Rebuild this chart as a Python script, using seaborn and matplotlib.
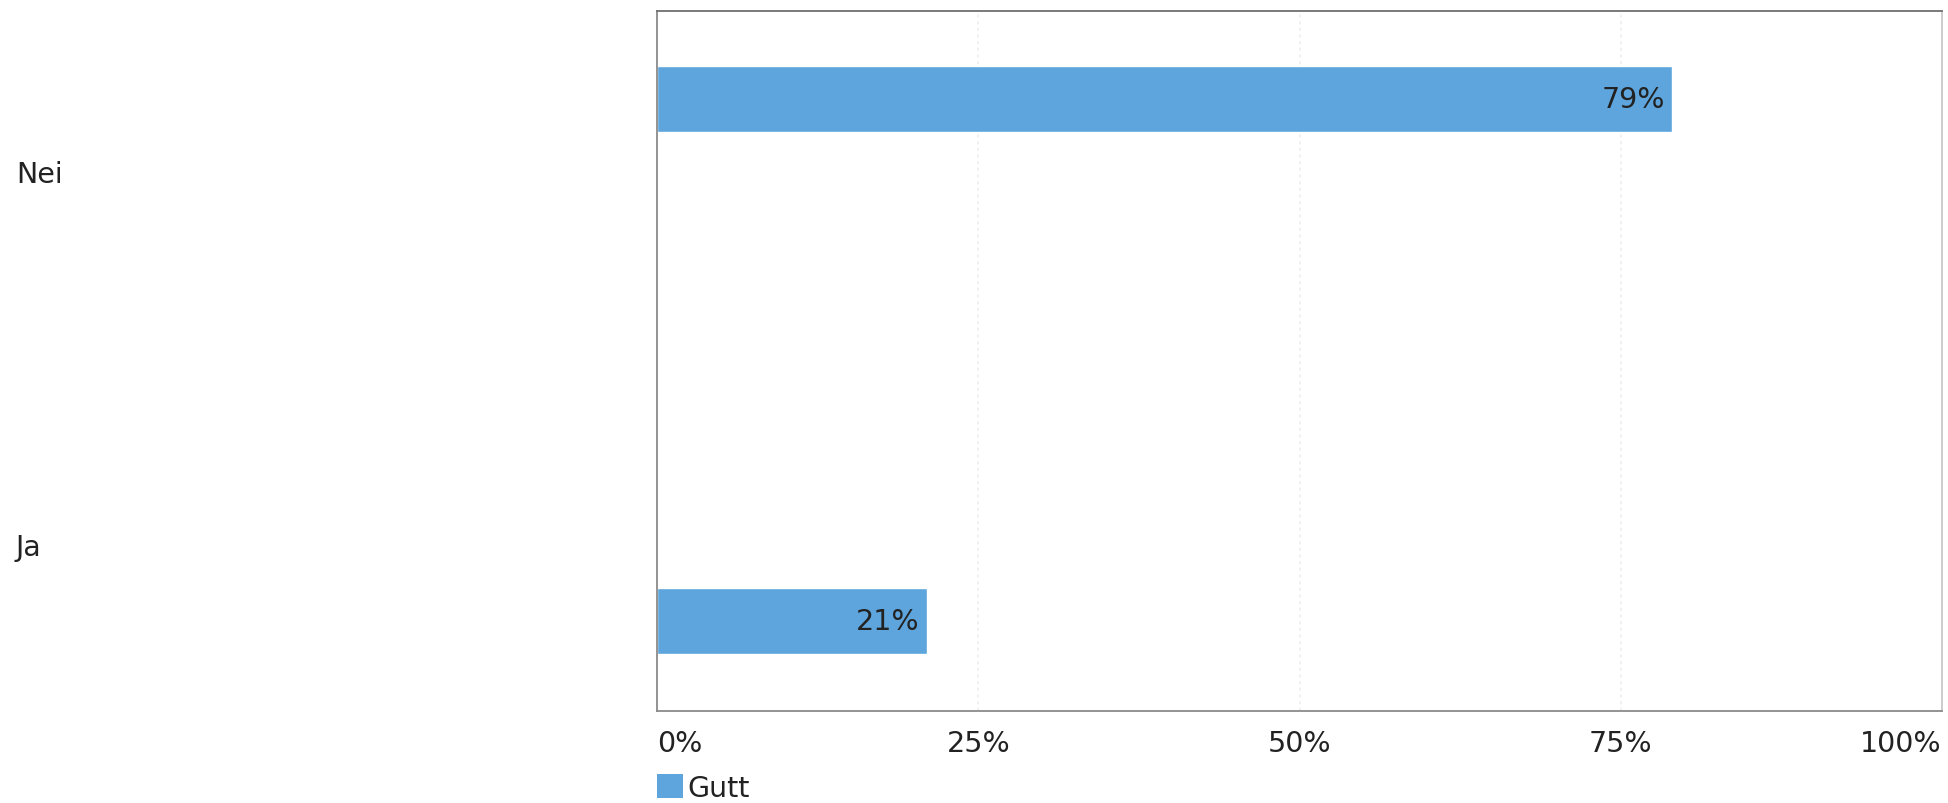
import matplotlib
matplotlib.use("Agg")
import matplotlib.pyplot as plt
import matplotlib.transforms as mtransforms
from matplotlib.patches import Patch
import pandas as pd
import seaborn as sns

# data
categories = ["Nei", "Ja"]
values = [79, 21]
series_name = "Gutt"
xticks = [0, 25, 50, 75, 100]
xtick_labels = ["0%", "25%", "50%", "75%", "100%"]

bar_color = "#5DA5DC"
text_color = "#222222"

sns.set_theme(style="white")
plt.rcParams["font.family"] = ["DejaVu Sans"]

df = pd.DataFrame({"kategori": categories, "andel": values})

fig = plt.figure(figsize=(19.48, 8.04), dpi=100)
ax = fig.add_axes([0.3373, 0.1144, 0.9969 - 0.3373, 0.985 - 0.1144])

sns.barplot(data=df, x="andel", y="kategori", orient="h", color=bar_color,
            width=0.126, saturation=1, ax=ax)

ax.set_xlim(0, 100)
ax.set_ylim(1.172, -0.169)

# faint vertical grid
for xv in xticks[1:-1]:
    ax.axvline(xv, color="#efefef", lw=1.2, ls=(0, (2, 2)), zorder=0)

# value labels inside bars
for i, v in enumerate(values):
    ax.annotate(f"{v}%", xy=(v, i), xytext=(-5, 0), textcoords="offset points",
                ha="right", va="center", fontsize=20.5, color=text_color)

# x tick labels
ax.set_xticks(xticks)
ax.set_xticklabels(xtick_labels, fontsize=20.5, color=text_color)
ax.tick_params(axis="x", length=0, pad=13)
labels = ax.get_xticklabels()
labels[0].set_ha("left")
labels[-1].set_ha("right")

# category labels at the far left
ax.set_yticks([])
ax.set_xlabel("")
ax.set_ylabel("")
trans = mtransforms.blended_transform_factory(fig.transFigure, ax.transData)
for ypos, cat in zip([0.144, 0.858], categories):
    fig.text(0.0082, ypos, cat, transform=trans, ha="left", va="center",
             fontsize=20.5, color=text_color)

# frame
for name, sp in ax.spines.items():
    sp.set_visible(True)
    sp.set_color("#8a8a8a")
    sp.set_linewidth(1.3)
ax.spines["right"].set_color("#c8c8c8")
ax.spines["top"].set_color("#707070")

# legend
handle = Patch(facecolor=bar_color, edgecolor="none")
fig.legend([handle], [series_name], loc="center left",
           bbox_to_anchor=(0.3373, 0.019), frameon=False, fontsize=20.5,
           borderpad=0, borderaxespad=0,
           handlelength=0.9, handleheight=0.9, handletextpad=0.15,
           labelcolor=text_color)

fig.savefig("out.png", dpi=100, facecolor="white")
